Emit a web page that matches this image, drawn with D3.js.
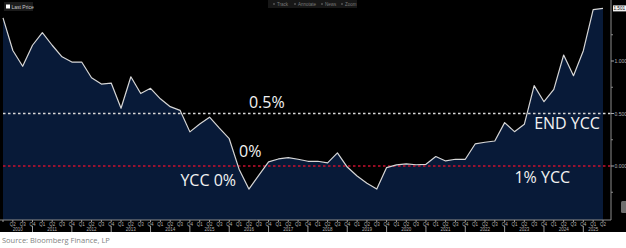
<!DOCTYPE html>
<html>
<head>
<meta charset="utf-8">
<script src="https://cdn.jsdelivr.net/npm/d3@7"></script>
<style>
    body { margin: 0; background: #fff; }
    svg { display: block; }
</style>
</head>
<body>
<div id="chart"></div>
<script>
// quarterly 10y yield, 2010 Q1 .. 2025 Q2 (last point = last price)
const years = [2010, 2011, 2012, 2013, 2014, 2015, 2016, 2017, 2018, 2019, 2020, 2021, 2022, 2023, 2024, 2025];
const quarterNames = ["Q1", "Q2", "Q3", "Q4"];
const yields = [
    1.41, 1.10, 0.95, 1.15,
    1.27, 1.15, 1.04, 0.99,
    0.99, 0.84, 0.78, 0.79,
    0.55, 0.85, 0.69, 0.74,
    0.64, 0.565, 0.53, 0.325,
    0.40, 0.465, 0.36, 0.26,
    -0.03, -0.22, -0.09, 0.04,
    0.067, 0.08, 0.064, 0.045,
    0.045, 0.03, 0.125, -0.01,
    -0.095, -0.165, -0.22, -0.015,
    0.01, 0.02, 0.012, 0.016,
    0.09, 0.048, 0.064, 0.064,
    0.21, 0.226, 0.238, 0.413,
    0.327, 0.397, 0.765, 0.612,
    0.73, 1.057, 0.86, 1.098,
    1.49, 1.501
];
const lastPrice = "1.501";
const majorTicks = [0, 0.5, 1.0];
const minorTicks = [-0.25, 0.25, 0.75, 1.25];
const refLines = [
    {value: 0.5, color: "#d8d8d8"},
    {value: 0, color: "#c8102e"}
];
const notes = [
    {text: "0.5%", period: "2016 Q2", value: 0.55, anchor: "start"},
    {text: "0%", period: "2016 Q1", value: 0.085, anchor: "start"},
    {text: "YCC 0%", period: "2016 Q1", value: -0.19, anchor: "end"},
    {text: "END YCC", period: "2023 Q3", value: 0.35, anchor: "start"},
    {text: "1% YCC", period: "2023 Q1", value: -0.16, anchor: "start"}
];
const toolbar = ["Track", "Annotate", "News", "Zoom"];

const W = 626, H = 248, chartBottom = 232,
    plot = {left: 3, right: 603, axisX: 611, top: 0, bottom: 220};

const data = yields.map((v, i) => ({
    period: years[Math.floor(i / 4)] + " " + quarterNames[i % 4],
    q: quarterNames[i % 4],
    year: years[Math.floor(i / 4)],
    value: v
}));

function drawChart() {
    const svg = d3.select("#chart")
        .append("svg")
        .attr("width", W)
        .attr("height", H)
        .style("font-family", "'Liberation Sans', Arial, sans-serif");

    svg.append("rect")
        .attr("width", W)
        .attr("height", chartBottom)
        .attr("fill", "#000");

    const x = d3.scalePoint()
        .domain(data.map(d => d.period))
        .range([plot.left, plot.right]);

    const y = d3.scaleLinear()
        .domain([0, 1])
        .range([166, 61]);

    const area = d3.area()
        .x(d => x(d.period))
        .y0(plot.bottom)
        .y1(d => y(d.value));
    const line = d3.line()
        .x(d => x(d.period))
        .y(d => y(d.value));

    svg.append("path")
        .datum(data)
        .attr("d", area)
        .attr("fill", "#081a38");

    svg.selectAll(".ref")
        .data(refLines)
        .join("line")
        .attr("x1", plot.left)
        .attr("x2", plot.axisX)
        .attr("y1", d => y(d.value))
        .attr("y2", d => y(d.value))
        .attr("stroke", d => d.color)
        .attr("stroke-width", 1.3)
        .attr("stroke-dasharray", "2.5,2.5");

    svg.append("path")
        .datum(data)
        .attr("d", line)
        .attr("fill", "none")
        .attr("stroke", "#d6d6d6")
        .attr("stroke-width", 1.2)
        .attr("stroke-linejoin", "round");

    // annotations
    svg.selectAll(".note")
        .data(notes)
        .join("text")
        .attr("x", d => x(d.period))
        .attr("y", d => y(d.value))
        .attr("text-anchor", d => d.anchor)
        .attr("dx", d => d.anchor === "end" ? -3 : 0)
        .attr("fill", "#f2f2f2")
        .style("font-family", "'Open Sans', sans-serif")
        .style("font-size", "16px")
        .text(d => d.text);

    drawYAxis(svg, y);
    drawXAxis(svg, x);
    drawChrome(svg);
}

function drawYAxis(svg, y) {
    const g = svg.append("g");
    g.append("line")
        .attr("x1", plot.axisX).attr("x2", plot.axisX)
        .attr("y1", 0).attr("y2", plot.bottom)
        .attr("stroke", "#8c8c8c");

    g.selectAll(".minor")
        .data(minorTicks)
        .join("line")
        .attr("x1", plot.axisX).attr("x2", plot.axisX + 2)
        .attr("y1", d => y(d)).attr("y2", d => y(d))
        .attr("stroke", "#8c8c8c");

    g.selectAll(".major")
        .data(majorTicks)
        .join("line")
        .attr("x1", plot.axisX).attr("x2", plot.axisX + 3)
        .attr("y1", d => y(d)).attr("y2", d => y(d))
        .attr("stroke", "#aaa");

    g.selectAll(".lbl")
        .data(majorTicks)
        .join("text")
        .attr("x", plot.axisX + 3.5)
        .attr("y", d => y(d) + 2)
        .attr("fill", "#b5b5b5")
        .style("font-size", "5px")
        .text(d => d3.format(".3f")(d));

    // last price tag
    const ly = y(+lastPrice);
    g.append("rect")
        .attr("x", plot.axisX + 2).attr("y", ly - 3)
        .attr("width", 13).attr("height", 6)
        .attr("fill", "#f0f0f0");
    g.append("text")
        .attr("x", plot.axisX + 2.5).attr("y", ly + 1.8)
        .attr("fill", "#111")
        .style("font-size", "4.6px")
        .text(lastPrice);
}

function drawXAxis(svg, x) {
    const g = svg.append("g");
    g.append("line")
        .attr("x1", 0).attr("x2", plot.axisX)
        .attr("y1", plot.bottom).attr("y2", plot.bottom)
        .attr("stroke", "#8c8c8c");

    g.selectAll(".qtick")
        .data(data)
        .join("line")
        .attr("x1", d => x(d.period)).attr("x2", d => x(d.period))
        .attr("y1", plot.bottom).attr("y2", plot.bottom + 2)
        .attr("stroke", "#9a9a9a");

    g.selectAll(".qlbl")
        .data(data.slice(1))
        .join("text")
        .attr("x", d => x(d.period))
        .attr("y", plot.bottom + 5.5)
        .attr("text-anchor", "middle")
        .attr("fill", "#b5b5b5")
        .style("font-size", "4.5px")
        .text(d => d.q);

    // year dividers sit on the Q4 points
    const q4 = data.filter(d => d.q === "Q4");
    g.selectAll(".ytick")
        .data(q4)
        .join("line")
        .attr("x1", d => x(d.period)).attr("x2", d => x(d.period))
        .attr("y1", plot.bottom + 6).attr("y2", chartBottom)
        .attr("stroke", "#9a9a9a");

    const yearPos = years.map(yr => {
        const pts = data.filter(d => d.year === yr).map(d => x(d.period));
        const prev = data.find(d => d.year === yr - 1 && d.q === "Q4");
        const lo = prev ? x(prev.period) : plot.left;
        const hi = yr === 2025 ? plot.right : d3.max(pts);
        return {year: yr, pos: (lo + hi) / 2};
    });
    g.selectAll(".ylbl")
        .data(yearPos)
        .join("text")
        .attr("x", d => d.pos)
        .attr("y", plot.bottom + 10.5)
        .attr("text-anchor", "middle")
        .attr("fill", "#b5b5b5")
        .style("font-size", "4.5px")
        .text(d => d.year);
}

function drawChrome(svg) {
    // legend
    svg.append("rect")
        .attr("x", 4).attr("y", 2).attr("width", 29).attr("height", 9)
        .attr("fill", "#1b1b1b");
    svg.append("rect")
        .attr("x", 6).attr("y", 4.5).attr("width", 4).attr("height", 4)
        .attr("fill", "#fff");
    svg.append("text")
        .attr("x", 11.5).attr("y", 8.5)
        .attr("fill", "#c8c8c8")
        .style("font-size", "5px")
        .text("Last Price");

    // toolbar
    svg.append("rect")
        .attr("x", 268).attr("y", 0).attr("width", 89).attr("height", 8)
        .attr("fill", "#171717");
    const tx = [277, 298, 325, 345];
    svg.selectAll(".tool")
        .data(toolbar)
        .join("text")
        .attr("x", (d, i) => tx[i])
        .attr("y", 5.5)
        .attr("fill", "#7a7a7a")
        .style("font-size", "4.5px")
        .text(d => d);
    svg.selectAll(".toolicon")
        .data(toolbar)
        .join("circle")
        .attr("cx", (d, i) => tx[i] - 3)
        .attr("cy", 4)
        .attr("r", 1)
        .attr("fill", "#555");

    // small side widget
    svg.append("rect")
        .attr("x", 621).attr("y", 201).attr("width", 6).attr("height", 12)
        .attr("rx", 1.5)
        .attr("fill", "#6e6e6e");

    svg.append("text")
        .attr("x", 2).attr("y", 242.5)
        .attr("fill", "#7f7f7f")
        .style("font-family", "'Open Sans', sans-serif")
        .style("font-size", "7.5px")
        .text("Source: Bloomberg Finance, LP");
}

drawChart();
</script>
</body>
</html>
